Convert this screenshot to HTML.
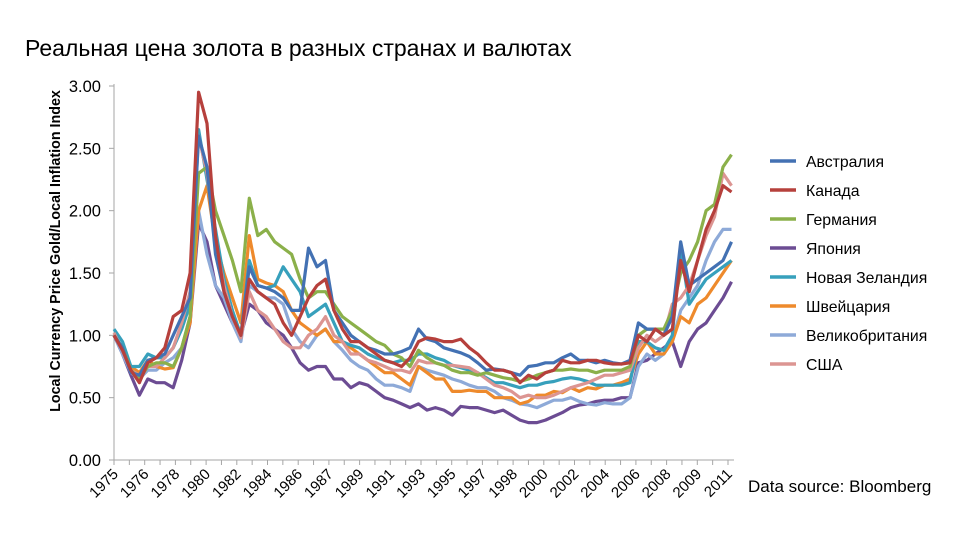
<!DOCTYPE html>
<html><head><meta charset="utf-8">
<style>
body{margin:0;background:#fff;}
svg text{font-family:"Liberation Sans","DejaVu Sans",sans-serif;fill:#000;}
</style></head>
<body>
<svg id="chart" width="960" height="540" xmlns="http://www.w3.org/2000/svg">
<text x="25" y="56" font-size="23">Реальная цена золота в разных странах и валютах</text>
<text transform="translate(60,251) rotate(-90)" text-anchor="middle" font-size="14.3" font-weight="bold">Local Currency Price Gold/Local Inflation Index</text>
<text x="748" y="492" font-size="17">Data source: Bloomberg</text>
<g id="axes"></g>
<g id="lines"></g>
<g id="legend"></g>
</svg>
<script>
const categories = ["Австралия","Канада","Германия","Япония","Новая Зеландия","Швейцария","Великобритания","США"];
const yTicks = [0,0.5,1.0,1.5,2.0,2.5,3.0];
const xLabels = ["1975","1976","1978","1980","1982","1984","1986","1987","1989","1991","1993","1995","1997","1998","2000","2002","2004","2006","2008","2009","2011"];
const startYear = 1975;
const stepYears = 0.5;
const australia = [1.0,0.9,0.7,0.68,0.8,0.82,0.85,1.0,1.15,1.3, 2.6,2.35,1.65,1.35,1.15,1.0,1.55,1.4,1.38,1.35, 1.3,1.2,1.2,1.7,1.55,1.6,1.2,1.1,1.0,0.95, 0.9,0.88,0.85,0.85,0.87,0.9,1.05,0.97,0.95,0.9, 0.88,0.86,0.83,0.78,0.72,0.73,0.72,0.7,0.68,0.75, 0.76,0.78,0.78,0.82,0.85,0.8,0.8,0.78,0.8,0.78, 0.77,0.8,1.1,1.05,1.05,1.0,1.15,1.75,1.4,1.45, 1.5,1.55,1.6,1.75];
const canada = [1.0,0.88,0.72,0.62,0.78,0.82,0.9,1.15,1.2,1.5, 2.95,2.7,1.8,1.35,1.15,1.0,1.45,1.35,1.3,1.25, 1.1,1.0,1.15,1.3,1.4,1.45,1.2,1.05,0.95,0.95, 0.9,0.85,0.8,0.78,0.75,0.82,0.95,0.98,0.97,0.95, 0.95,0.97,0.9,0.85,0.78,0.72,0.72,0.7,0.62,0.68, 0.65,0.7,0.72,0.8,0.78,0.78,0.8,0.8,0.78,0.77, 0.77,0.78,1.0,0.95,1.05,1.0,1.05,1.6,1.35,1.6, 1.85,2.0,2.2,2.15];
const germany = [1.0,0.9,0.72,0.65,0.75,0.78,0.78,0.75,0.9,1.15, 2.3,2.35,2.0,1.8,1.6,1.35,2.1,1.8,1.85,1.75, 1.7,1.65,1.45,1.3,1.35,1.35,1.25,1.15,1.1,1.05, 1.0,0.95,0.92,0.85,0.82,0.75,0.88,0.82,0.78,0.76, 0.72,0.7,0.7,0.68,0.7,0.68,0.66,0.65,0.63,0.65, 0.68,0.7,0.72,0.72,0.73,0.72,0.72,0.7,0.72,0.72, 0.72,0.75,1.0,1.05,1.05,1.05,1.2,1.5,1.6,1.75, 2.0,2.05,2.35,2.45];
const japan = [1.0,0.85,0.68,0.52,0.65,0.62,0.62,0.58,0.8,1.1, 1.9,1.75,1.4,1.25,1.1,1.0,1.25,1.2,1.1,1.05, 1.0,0.9,0.78,0.72,0.75,0.75,0.65,0.65,0.58,0.62, 0.6,0.55,0.5,0.48,0.45,0.42,0.45,0.4,0.42,0.4, 0.36,0.43,0.42,0.42,0.4,0.38,0.4,0.36,0.32,0.3, 0.3,0.32,0.35,0.38,0.42,0.44,0.45,0.47,0.48,0.48, 0.5,0.5,0.78,0.8,0.85,0.9,0.95,0.75,0.95,1.05, 1.1,1.2,1.3,1.43];
const newZealand = [1.05,0.95,0.75,0.75,0.85,0.82,0.82,0.9,1.05,1.25, 2.65,2.25,1.85,1.45,1.2,1.0,1.6,1.4,1.38,1.4, 1.55,1.45,1.35,1.15,1.2,1.25,1.1,0.95,0.92,0.9, 0.85,0.82,0.8,0.78,0.8,0.8,0.85,0.85,0.82,0.8, 0.76,0.74,0.72,0.7,0.66,0.62,0.62,0.6,0.58,0.6, 0.6,0.62,0.63,0.65,0.66,0.65,0.63,0.6,0.6,0.6, 0.6,0.62,0.95,0.95,0.9,0.88,1.0,1.7,1.25,1.35, 1.45,1.5,1.55,1.6];
const switzerland = [1.0,0.9,0.75,0.7,0.8,0.75,0.73,0.74,0.9,1.1, 2.0,2.2,1.75,1.5,1.3,1.1,1.8,1.45,1.42,1.4, 1.35,1.2,1.1,1.05,1.0,1.05,0.95,0.95,0.9,0.85, 0.8,0.75,0.7,0.7,0.65,0.6,0.75,0.7,0.65,0.65, 0.55,0.55,0.56,0.55,0.55,0.5,0.5,0.5,0.45,0.47, 0.52,0.52,0.55,0.54,0.58,0.55,0.58,0.57,0.6,0.6, 0.62,0.65,0.85,0.95,0.85,0.85,0.95,1.15,1.1,1.25, 1.3,1.4,1.5,1.6];
const uk = [1.0,0.85,0.7,0.65,0.72,0.72,0.78,0.82,0.9,1.15, 2.0,1.65,1.4,1.3,1.1,0.95,1.4,1.35,1.3,1.3, 1.25,1.05,0.95,0.9,1.0,1.05,0.95,0.88,0.8,0.75, 0.72,0.65,0.6,0.6,0.58,0.55,0.75,0.72,0.7,0.68, 0.65,0.63,0.6,0.58,0.58,0.55,0.5,0.48,0.45,0.44, 0.42,0.45,0.48,0.48,0.5,0.47,0.45,0.44,0.46,0.45, 0.45,0.5,0.75,0.85,0.8,0.85,0.95,1.2,1.3,1.4, 1.6,1.75,1.85,1.85];
const usa = [1.02,0.88,0.72,0.68,0.75,0.75,0.82,0.9,1.1,1.35, 2.6,2.3,1.75,1.4,1.15,0.98,1.35,1.2,1.15,1.05, 0.95,0.9,0.9,1.0,1.05,1.15,1.0,0.95,0.85,0.85, 0.8,0.78,0.75,0.72,0.72,0.7,0.8,0.78,0.78,0.76, 0.76,0.75,0.74,0.7,0.65,0.6,0.58,0.55,0.5,0.52, 0.5,0.5,0.52,0.55,0.58,0.6,0.62,0.65,0.68,0.68, 0.7,0.72,0.9,1.0,0.95,1.0,1.25,1.3,1.4,1.6, 1.8,1.95,2.3,2.2];
const seriesValues = [australia,canada,germany,japan,newZealand,switzerland,uk,usa];
const colors = ["#4371b3","#b6403c","#8bb04a","#6c4c93","#37a0bc","#ee8a2c","#8eaad8","#dc9592"];
const drawOrder = [3,6,5,4,7,2,0,1];

const NS = "http://www.w3.org/2000/svg";
const X0 = 114, X1 = 734, Y0 = 460, Y1 = 86;
const tMax = 2011.65;
const xScale = t => X0 + (t - startYear) / (tMax - startYear) * (X1 - X0);
const yScale = v => Y0 - v / 3 * (Y0 - Y1);
function mk(tag, attrs, parent){const e=document.createElementNS(NS,tag);for(const k in attrs)e.setAttribute(k,attrs[k]);parent.appendChild(e);return e;}

const axes = document.getElementById('axes');
const yAxis = mk('line',{x1:X0,y1:Y1-2,x2:X0,y2:Y0,stroke:'#a6a6a6','stroke-width':1},axes);


const xAxis = mk('line',{x1:X0,y1:Y0,x2:X1,y2:Y0,stroke:'#a6a6a6','stroke-width':1},axes);


yTicks.forEach(v=>{
  const y=yScale(v);
  const tk=mk('line',{x1:X0-5,y1:y,x2:X0,y2:y,stroke:'#a6a6a6'},axes);
  
  
  const t=mk('text',{x:101,y:y+6,'text-anchor':'end','font-size':16.5},axes);
  t.textContent=v.toFixed(2);
  
  
});
const labelStep = (X1 - 6 - X0) / (xLabels.length - 1);
for(let i=0;i<xLabels.length*2-1;i++){
  const x=X0+i*labelStep/2;
  const tk=mk('line',{x1:x,y1:Y0,x2:x,y2:Y0+5,stroke:'#a6a6a6'},axes);
  
  
}
xLabels.forEach((lab,i)=>{
  const x=X0+i*labelStep+5;
  const t=mk('text',{x:x,y:Y0+15,'text-anchor':'end','font-size':15,transform:`rotate(-45 ${x} ${Y0+15})`},axes);
  t.textContent=lab;
  
  
});

const lines = document.getElementById('lines');
drawOrder.forEach(si=>{
  const vals=seriesValues[si];
  const d=vals.map((v,i)=>(i?'L':'M')+xScale(startYear+i*stepYears).toFixed(1)+','+yScale(v).toFixed(1)).join('');
  const p=mk('path',{d:d,fill:'none',stroke:colors[si],'stroke-width':3.2,'stroke-linejoin':'round'},lines);
  
  
});

const legend = document.getElementById('legend');
categories.forEach((c,i)=>{
  const y=161+i*29;
  const g=mk('g',{},legend);
  
  
  mk('line',{x1:770,y1:y,x2:796,y2:y,stroke:colors[i],'stroke-width':3.5},g);
  const t=mk('text',{x:806,y:y+6,'font-size':15.8},g);
  t.textContent=c;
});
</script>
</body></html>
